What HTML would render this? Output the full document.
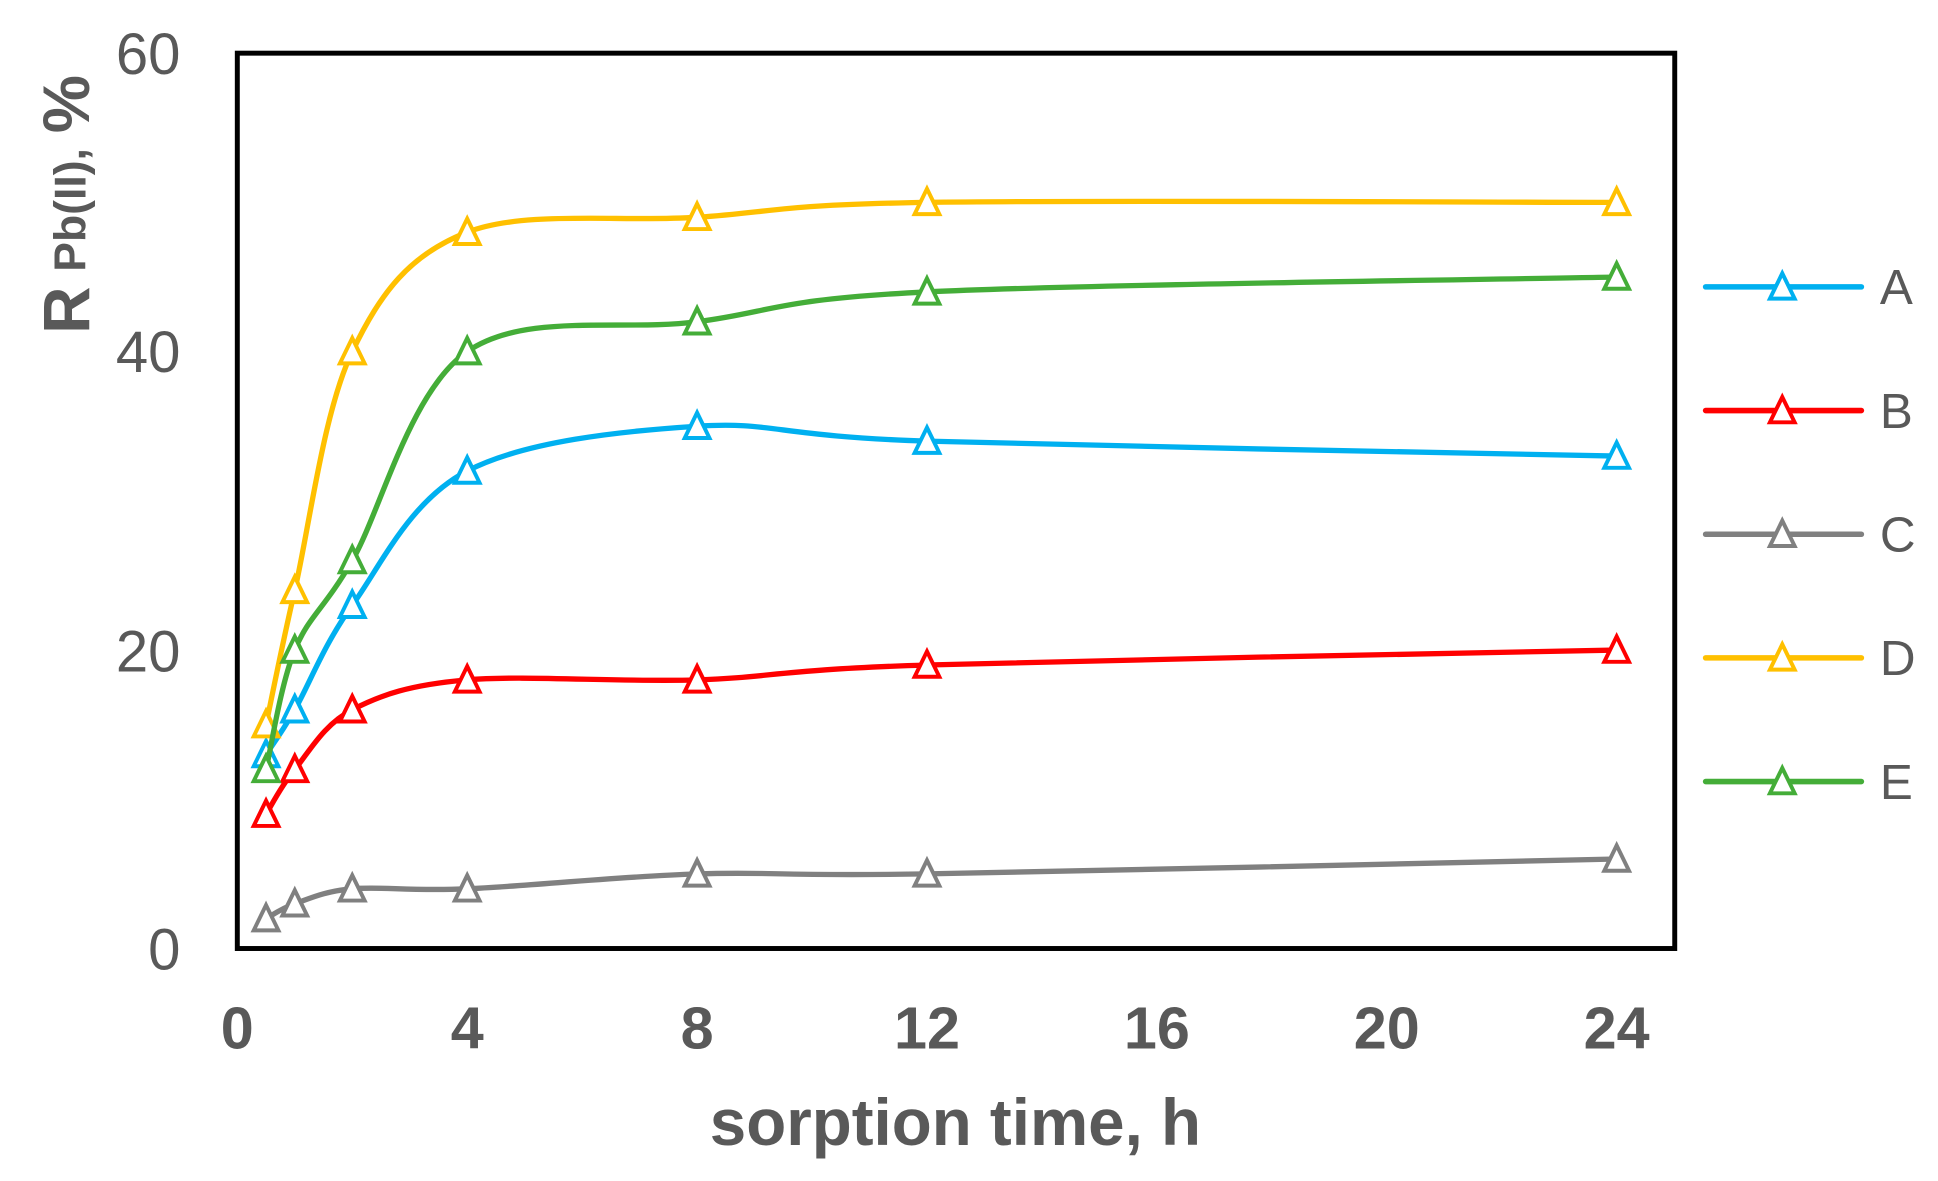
<!DOCTYPE html>
<html><head><meta charset="utf-8"><style>
html,body{margin:0;padding:0;background:#fff;}
svg{display:block;}
text{font-family:"Liberation Sans",Arial,sans-serif;fill:#595959;}
</style></head><body>
<svg id="s" width="1938" height="1181" viewBox="0 0 1568 955" preserveAspectRatio="none" xmlns="http://www.w3.org/2000/svg">
<rect x="0" y="0" width="1568" height="955" fill="#fff"/>
<g id="plot"></g>
<rect x="192" y="43" width="1163" height="724" fill="none" stroke="#000" stroke-width="4"/>
<g font-size="47" text-anchor="end">
<text x="146" y="60">60</text>
<text x="146" y="301">40</text>
<text x="146" y="543">20</text>
<text x="146" y="784">0</text>
</g>
<g font-size="48" font-weight="bold" text-anchor="middle">
<text x="192" y="848">0</text>
<text x="378" y="848">4</text>
<text x="564" y="848">8</text>
<text x="750" y="848">12</text>
<text x="936" y="848">16</text>
<text x="1122" y="848">20</text>
<text x="1308" y="848">24</text>
</g>
<text x="773" y="926" font-size="53" font-weight="bold" text-anchor="middle">sorption time, h</text>
<g transform="translate(72,270) rotate(-90)">
<text x="0" y="0" font-size="53" font-weight="bold">R<tspan font-size="36" dx="12" dy="-3">Pb(II),</tspan><tspan font-size="53" font-weight="bold" dx="12" dy="3">%</tspan></text>
</g>
<g id="leg" font-size="40"></g>
</svg>
<script>
var xs=[0.5,1,2,4,8,12,24];
var S=[["#00B0F0",[13,16,23,32,35,34,33],"A"],["#FF0000",[9,12,16,18,18,19,20],"B"],["#808080",[2,3,4,4,5,5,6],"C"],["#FFC000",[15,24,40,48,49,50,50],"D"],["#44AD38",[12,20,26,40,42,44,45],"E"]];
function X(v){return 192+v*46.5;}function Y(v){return 767-v*12.067;}
function tri(cx,cy,c){return '<path d="M'+cx+' '+(cy-12)+' L'+(cx+10)+' '+(cy+8.5)+' L'+(cx-10)+' '+(cy+8.5)+' Z" fill="#fff" stroke="'+c+'" stroke-width="3.2"/>';}
var h='',L='';
S.forEach(function(s,k){
 var p=xs.map(function(x,i){return [X(x),Y(s[1][i])];});
 var d='M'+p[0][0]+' '+p[0][1];
 for(var i=0;i<p.length-1;i++){
  var p0=p[i-1]||p[i],p1=p[i],p2=p[i+1],p3=p[i+2]||p[i+1],t=6;
  d+=' C'+(p1[0]+(p2[0]-p0[0])/t)+' '+(p1[1]+(p2[1]-p0[1])/t)+' '+(p2[0]-(p3[0]-p1[0])/t)+' '+(p2[1]-(p3[1]-p1[1])/t)+' '+p2[0]+' '+p2[1];
 }
 h+='<path d="'+d+'" fill="none" stroke="'+s[0]+'" stroke-width="4.3" stroke-linecap="round"/>';
 p.forEach(function(q){h+=tri(q[0],q[1]+1,s[0]);});
 var ly=232+k*100;
 L+='<line x1="1380" y1="'+ly+'" x2="1506" y2="'+ly+'" stroke="'+s[0]+'" stroke-width="4.5" stroke-linecap="round"/>'+tri(1442,ly+1,s[0])+'<text x="1521" y="'+(ly+14)+'">'+s[2]+'</text>';
});
document.getElementById('plot').innerHTML=h;
document.getElementById('leg').innerHTML=L;
</script>
</body></html>
